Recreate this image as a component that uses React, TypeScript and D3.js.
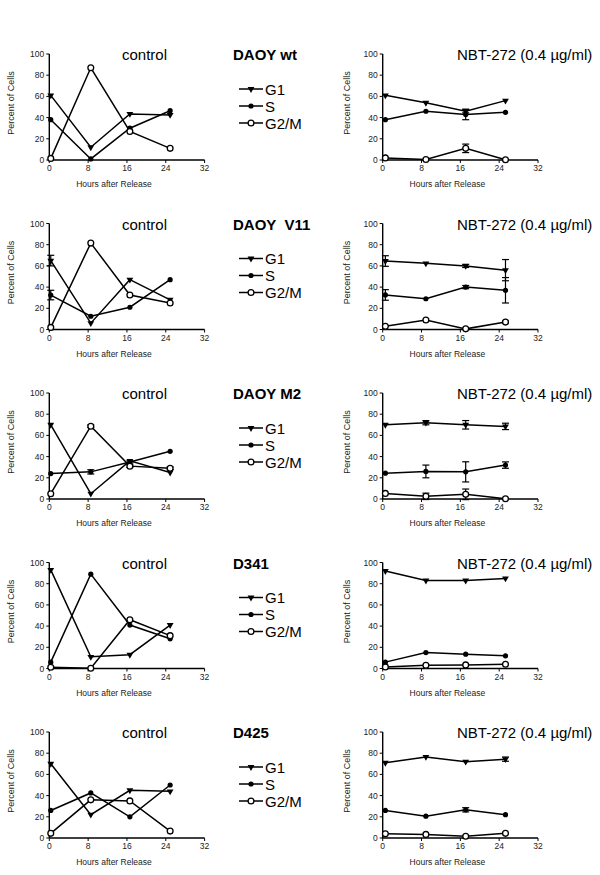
import React from "react";
import * as d3 from "d3";

const cellLines = ["DAOY wt", "DAOY  V11", "DAOY M2", "D341", "D425"];
const xTicks = [0, 8, 16, 24, 32];
const yTicks = [0, 20, 40, 60, 80, 100];
const phases = ["G1", "S", "G2/M"];
const controlTitle = "control";
const nbtTitle = "NBT-272 (0.4 µg/ml)";
const xTitle = "Hours after Release";
const yTitle = "Percent of Cells";

const controlHours = [0.3, 8.55, 16.6, 24.9];
const nbtHours = [0.55, 8.9, 17.1, 25.3];

const controlG1 = [
  [61, 12, 43.5, 42.5],
  [65, 6, 47, 28],
  [70, 5, 36, 25],
  [93, 11, 13, 41],
  [70, 22, 45, 44],
];
const controlS = [
  [38, 1, 30, 46.5],
  [32.5, 12.5, 21, 47],
  [24, 25.6, 35, 45],
  [6, 89, 41, 28],
  [26, 42.5, 20, 50],
];
const controlG2M = [
  [1.5, 87, 27, 11],
  [2, 81.5, 32.5, 25],
  [5, 68.7, 31, 29],
  [1.2, 0.3, 46, 31],
  [4.4, 36, 35, 6.5],
];
const controlG1Err = [
  [0, 0, 0, 0],
  [5, 0, 0, 0],
  [0, 0, 0, 0],
  [0, 0, 0, 0],
  [0, 0, 0, 0],
];
const controlSErr = [
  [0, 0, 0, 0],
  [4.5, 0, 0, 0],
  [0, 2, 1, 0],
  [0, 0, 0, 0],
  [0, 0, 0, 0],
];
const controlG2MErr = [
  [0, 0, 0, 0],
  [0, 0, 0, 0],
  [0, 1.2, 1.2, 1.2],
  [0, 0, 0, 0],
  [0, 0, 0, 0],
];

const nbtG1 = [
  [61, 54, 46, 56],
  [64.6, 62.4, 60, 56],
  [70, 72, 70, 68.5],
  [92, 83, 83, 85],
  [71, 76.5, 72, 74.4],
];
const nbtS = [
  [38, 46, 43, 45],
  [32.6, 29, 40, 37],
  [24.4, 26, 25.6, 32],
  [6, 15, 13.5, 12],
  [26, 20.6, 26.6, 22],
];
const nbtG2M = [
  [2, 0.5, 11, 0.3],
  [3, 9, 0.6, 7],
  [5.3, 2.5, 4.4, 0.3],
  [1.5, 3, 3.4, 4],
  [4, 3.4, 1.6, 4.4],
];
const nbtG1Err = [
  [0, 0, 1.5, 0],
  [5, 0, 1.5, 10],
  [0, 2, 4, 3],
  [0, 0, 0, 0],
  [0, 0, 0, 2],
];
const nbtSErr = [
  [0, 0, 5, 0],
  [5, 0, 1.5, 12],
  [0, 6, 9.5, 3],
  [0, 0, 0, 0],
  [0, 0, 2, 0],
];
const nbtG2MErr = [
  [0, 0, 4, 0],
  [0, 0, 0, 1],
  [0, 3, 5, 0],
  [0, 0, 0, 0],
  [0, 0, 0, 0],
];

const W = 600;
const H = 875;
const FONT = "'Liberation Sans', Arial, sans-serif";
const ROW0 = 54;
const ROW_STEP = 169.5;
const PLOT_H = 106;
const CONTROL_X0 = 49.3;
const NBT_X0 = 382.7;
const PLOT_W = 155.3;

const triPath = d3.symbol(d3.symbolTriangle, 20)() as string;

function Marker({ kind, x, y }: { kind: number; x: number; y: number }) {
  if (kind === 0)
    return <path d={triPath} transform={`translate(${x},${y}) rotate(180)`} fill="#000" />;
  if (kind === 1) return <circle cx={x} cy={y} r={2.6} fill="#000" />;
  return <circle cx={x} cy={y} r={2.9} fill="#fff" stroke="#000" strokeWidth={1.3} />;
}

function Panel({
  x0,
  top,
  hours,
  series,
  errs,
  title,
  titleX,
  yTitleX,
}: {
  x0: number;
  top: number;
  hours: number[];
  series: number[][];
  errs: number[][];
  title: string;
  titleX: number;
  yTitleX: number;
}) {
  const x = d3.scaleLinear().domain([0, 32]).range([x0, x0 + PLOT_W]);
  const y = d3.scaleLinear().domain([0, 100]).range([top + PLOT_H, top]);
  const line = d3
    .line<number>()
    .x((_, i) => x(hours[i]))
    .y((d) => y(d));
  const yb = top + PLOT_H;
  return (
    <g fontFamily={FONT}>
      <text x={titleX} y={top + 6} fontSize={15}>
        {title}
      </text>
      {/* axes */}
      <line x1={x0} x2={x0} y1={top} y2={yb} stroke="#000" strokeWidth={1.4} />
      <line x1={x0} x2={x0 + PLOT_W} y1={yb} y2={yb} stroke="#000" strokeWidth={1.4} />
      {yTicks.map((t) => (
        <g key={"y" + t}>
          <line x1={x0 - 3} x2={x0} y1={y(t)} y2={y(t)} stroke="#000" strokeWidth={1} />
          <text x={x0 - 5} y={y(t) + 3} fontSize={8.5} textAnchor="end" fill="#222">
            {t}
          </text>
        </g>
      ))}
      {xTicks.map((t) => (
        <g key={"x" + t}>
          <line x1={x(t)} x2={x(t)} y1={yb} y2={yb + 3} stroke="#000" strokeWidth={1} />
          <text x={x(t)} y={yb + 11} fontSize={8.5} textAnchor="middle" fill="#222">
            {t}
          </text>
        </g>
      ))}
      <text x={x(16) - 13} y={yb + 27} fontSize={8.5} textAnchor="middle" fill="#222">
        {xTitle}
      </text>
      <text
        transform={`translate(${yTitleX},${top + PLOT_H / 2 - 4}) rotate(-90)`}
        fontSize={9}
        textAnchor="middle"
        fill="#222"
      >
        {yTitle}
      </text>
      {series.map((s, k) => (
        <g key={"s" + k}>
          <path d={line(s) as string} fill="none" stroke="#000" strokeWidth={1.5} />
          {s.map((v, i) =>
            errs[k][i] > 0 ? (
              <g key={"e" + i} stroke="#000" strokeWidth={1.2}>
                <line x1={x(hours[i])} x2={x(hours[i])} y1={y(v - errs[k][i])} y2={y(v + errs[k][i])} />
                <line x1={x(hours[i]) - 3.5} x2={x(hours[i]) + 3.5} y1={y(v - errs[k][i])} y2={y(v - errs[k][i])} />
                <line x1={x(hours[i]) - 3.5} x2={x(hours[i]) + 3.5} y1={y(v + errs[k][i])} y2={y(v + errs[k][i])} />
              </g>
            ) : null
          )}
          {s.map((v, i) => (
            <Marker key={"m" + i} kind={k} x={x(hours[i])} y={y(v)} />
          ))}
        </g>
      ))}
    </g>
  );
}

export default function App() {
  return (
    <svg
      width={W}
      height={H}
      style={{ position: "absolute", left: 0, top: 0, background: "#fff" }}
    >
      <rect width={W} height={H} fill="#fff" />
      {cellLines.map((name, r) => {
        const top = ROW0 + r * ROW_STEP;
        return (
          <g key={name}>
            <Panel
              x0={CONTROL_X0}
              top={top}
              hours={controlHours}
              series={[controlG1[r], controlS[r], controlG2M[r]]}
              errs={[controlG1Err[r], controlSErr[r], controlG2MErr[r]]}
              title={controlTitle}
              titleX={122}
              yTitleX={14}
            />
            <Panel
              x0={NBT_X0}
              top={top}
              hours={nbtHours}
              series={[nbtG1[r], nbtS[r], nbtG2M[r]]}
              errs={[nbtG1Err[r], nbtSErr[r], nbtG2MErr[r]]}
              title={nbtTitle}
              titleX={457}
              yTitleX={350}
            />
            <text
              x={233}
              y={top + 6}
              fontFamily={FONT}
              fontSize={15}
              fontWeight="bold"
              style={{ whiteSpace: "pre" }}
            >
              {name}
            </text>
            {phases.map((p, k) => {
              const cy = top + 35 + k * 17;
              return (
                <g key={p}>
                  <line x1={239} x2={263} y1={cy} y2={cy} stroke="#000" strokeWidth={1.5} />
                  <Marker kind={k} x={251} y={cy} />
                  <text x={265} y={cy + 5.5} fontFamily={FONT} fontSize={15}>
                    {p}
                  </text>
                </g>
              );
            })}
          </g>
        );
      })}
    </svg>
  );
}
